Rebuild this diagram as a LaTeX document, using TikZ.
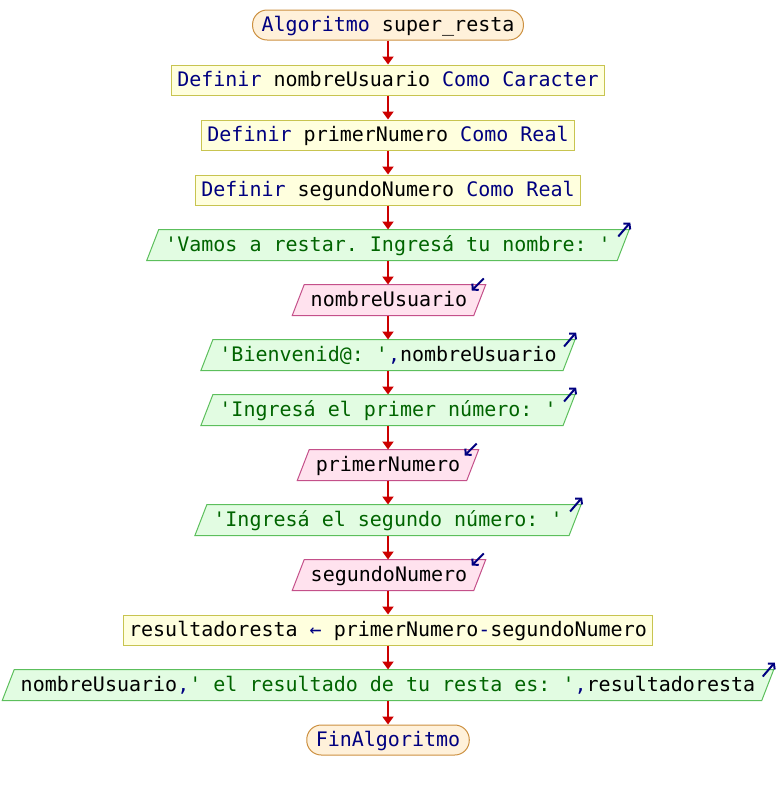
\documentclass[tikz,border=0pt]{standalone}
\usepackage{fontspec}
\setmonofont{DejaVu Sans Mono}
\usetikzlibrary{calc,arrows.meta,backgrounds}

\definecolor{kw}{HTML}{000080}
\definecolor{strg}{HTML}{006400}
\definecolor{termfill}{HTML}{FFF1DA}
\definecolor{termdraw}{HTML}{CC9040}
\definecolor{procfill}{HTML}{FFFFDE}
\definecolor{procdraw}{HTML}{C8C450}
\definecolor{outfill}{HTML}{E2FCE2}
\definecolor{outdraw}{HTML}{5CBF5C}
\definecolor{infill}{HTML}{FFE2EE}
\definecolor{indraw}{HTML}{C4508A}
\definecolor{flowred}{HTML}{CC0000}

\tikzset{
  base/.style={font=\ttfamily\fontsize{20}{24}\selectfont, text height=15pt, text depth=3pt,
    minimum height=30pt, inner xsep=6pt, inner ysep=0pt, line width=1pt},
  proc/.style={base, rectangle, draw=procdraw, fill=procfill},
  term/.style={base, rectangle, rounded corners=14.5pt, inner xsep=9pt, draw=termdraw, fill=termfill},
  io/.style={base, rectangle},
  outshape/.style={draw=outdraw, fill=outfill, line width=1pt},
  inshape/.style={draw=indraw, fill=infill, line width=1pt},
  flow/.style={draw=flowred, line width=2pt, -{Triangle[length=8pt,width=11pt]}},
  ioicon/.style={draw=kw, line width=2pt, -{Straight Barb[length=4pt,width=9pt]}}
}

% slanted box for input/output steps, hugging node #1
\newcommand\slantbox[2]{%
  \path[#2] ($(#1.south west)+(-12,0)$) -- (#1.south east)
    -- ($(#1.north east)+(12,0)$) -- (#1.north west) -- cycle;}
% small arrow marks on the top right corner
\newcommand\writemark[1]{%
  \draw[ioicon] ($(#1.north east)+(1,7)$) -- ($(#1.north east)+(13,-7)$);}
\newcommand\readmark[1]{%
  \draw[ioicon] ($(#1.north east)+(10,-6)$) -- ($(#1.north east)+(-2,6)$);}

\begin{document}
\begin{tikzpicture}[x=1pt,y=-1pt]
\useasboundingbox (0,0) rectangle (776,790);

\node[term] (start) at (388,25) {\textcolor{kw}{Algoritmo} super\_resta};
\node[proc] (d1) at (388,80) {\textcolor{kw}{Definir} nombreUsuario \textcolor{kw}{Como Caracter}};
\node[proc] (d2) at (388,135) {\textcolor{kw}{Definir} primerNumero \textcolor{kw}{Como Real}};
\node[proc] (d3) at (388,190) {\textcolor{kw}{Definir} segundoNumero \textcolor{kw}{Como Real}};
\node[io] (o1) at (388,245) {\textcolor{strg}{'Vamos a restar. Ingresá tu nombre: '}};
\node[io] (i1) at (389,300) {nombreUsuario};
\node[io] (o2) at (388,355) {\textcolor{strg}{'Bienvenid@: '}\textcolor{kw}{,}nombreUsuario};
\node[io] (o3) at (388,410) {\textcolor{strg}{'Ingresá el primer número: '}};
\node[io] (i2) at (388,465) {primerNumero};
\node[io] (o4) at (388,520) {\textcolor{strg}{'Ingresá el segundo número: '}};
\node[io] (i3) at (389,575) {segundoNumero};
\node[proc] (a1) at (388,630) {resultadoresta \textcolor{kw}{←} primerNumero\textcolor{kw}{-}segundoNumero};
\node[io] (o5) at (388,685) {nombreUsuario\textcolor{kw}{,}\textcolor{strg}{' el resultado de tu resta es: '}\textcolor{kw}{,}resultadoresta};
\node[term] (stop) at (388,740) {\textcolor{kw}{FinAlgoritmo}};

\begin{pgfonlayer}{background}
  \slantbox{o1}{outshape}
  \slantbox{i1}{inshape}
  \slantbox{o2}{outshape}
  \slantbox{o3}{outshape}
  \slantbox{i2}{inshape}
  \slantbox{o4}{outshape}
  \slantbox{i3}{inshape}
  \slantbox{o5}{outshape}
\end{pgfonlayer}

\writemark{o1}
\readmark{i1}
\writemark{o2}
\writemark{o3}
\readmark{i2}
\writemark{o4}
\readmark{i3}
\writemark{o5}

\foreach \a/\b in {start/d1,d1/d2,d2/d3,d3/o1,o1/i1,i1/o2,o2/o3,o3/i2,i2/o4,o4/i3,i3/a1,a1/o5,o5/stop}
  \draw[flow] (\a.south -| 388,0) -- (\b.north -| 388,0);
\end{tikzpicture}
\end{document}
